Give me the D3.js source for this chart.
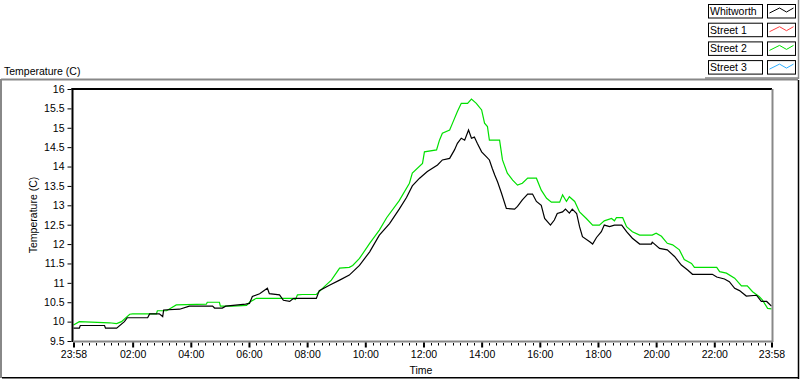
<!DOCTYPE html>
<html>
<head>
<meta charset="utf-8">
<script src="https://cdn.jsdelivr.net/npm/d3@7"></script>
<style>
  html, body { margin: 0; padding: 0; background: #fff; }
  svg { display: block; font-family: "Liberation Sans", Arial, sans-serif; }
</style>
</head>
<body>
<svg id="chart" width="800" height="380"></svg>
<script>
// ---------- DATA (minutes after midnight; start 23:58 previous day = -2) ----------
const seriesNames = ["Whitworth", "Street 1", "Street 2", "Street 3"];
const seriesColors = ["#000000", "#ff4040", "#00e000", "#30b0ff"];

const whitworthTime = [-2,10,12,62,64,87,103,109,151,155,175,182,184,217,237,285,289,305,312,353,361,367,382,398,402,423,431,444,452,499,505,526,547,567,588,609,629,650,670,685,697,712,728,749,759,774,784,790,798,805,813,819,825,831,840,850,856,862,867,873,881,891,908,914,924,935,945,953,963,970,982,990,996,1007,1013,1021,1027,1036,1042,1048,1063,1069,1077,1087,1093,1104,1114,1129,1139,1151,1166,1190,1192,1207,1223,1238,1252,1265,1275,1316,1325,1341,1351,1362,1372,1386,1407,1417,1428,1438];
const whitworthTemp = [9.83,9.83,9.9,9.9,9.83,9.83,10.0,10.1,10.1,10.2,10.2,10.13,10.3,10.32,10.4,10.4,10.35,10.35,10.4,10.45,10.47,10.65,10.72,10.86,10.72,10.69,10.55,10.52,10.6,10.6,10.8,10.94,11.07,11.2,11.45,11.8,12.23,12.53,12.9,13.2,13.5,13.7,13.87,14.04,14.17,14.21,14.43,14.6,14.73,14.68,14.94,14.73,14.76,14.6,14.38,14.25,14.17,13.95,13.78,13.6,13.31,12.92,12.9,12.97,13.14,13.29,13.29,13.1,13.0,12.66,12.49,12.62,12.79,12.83,12.9,12.8,12.9,12.79,12.45,12.19,12.06,12.0,12.17,12.32,12.49,12.45,12.49,12.49,12.32,12.15,12.0,12.0,12.05,11.89,11.85,11.68,11.46,11.33,11.22,11.22,11.15,11.1,11.03,10.86,10.8,10.66,10.68,10.52,10.52,10.4];

const street1Time = [];
const street1Temp = [];

const street2Time = [-2,10,72,87,97,114,120,169,171,190,210,272,274,299,301,326,355,361,375,450,456,460,470,499,516,530,547,567,574,588,609,629,644,670,691,697,718,722,747,753,759,774,780,790,798,811,819,829,840,846,852,856,877,883,893,904,914,924,935,953,963,974,984,1001,1007,1015,1021,1032,1042,1056,1069,1083,1093,1108,1114,1118,1131,1139,1151,1166,1192,1200,1211,1223,1234,1248,1258,1273,1279,1325,1331,1345,1362,1376,1388,1399,1413,1419,1430,1438];
const street2Temp = [9.91,10.0,9.97,9.95,10.0,10.19,10.2,10.2,10.28,10.28,10.43,10.45,10.5,10.5,10.4,10.4,10.42,10.5,10.6,10.6,10.57,10.69,10.7,10.7,10.91,11.07,11.38,11.4,11.45,11.63,12.02,12.36,12.68,13.12,13.57,13.83,14.08,14.38,14.43,14.68,14.86,14.94,15.12,15.42,15.63,15.63,15.74,15.63,15.46,15.12,15.03,14.68,14.68,14.17,13.83,13.65,13.52,13.57,13.7,13.7,13.39,13.18,13.08,13.08,13.27,13.1,13.22,13.1,12.83,12.66,12.49,12.49,12.6,12.66,12.6,12.68,12.68,12.45,12.32,12.23,12.23,12.28,12.2,12.02,11.98,11.85,11.6,11.5,11.4,11.4,11.29,11.25,11.12,10.92,10.92,10.77,10.64,10.56,10.34,10.33];

const street3Time = [];
const street3Temp = [];

const yTicks = [9.5,10,10.5,11,11.5,12,12.5,13,13.5,14,14.5,15,15.5,16];
const xTickMinutes = [-2,120,240,360,480,600,720,840,960,1080,1200,1320,1438];
const xTickLabels = ["23:58","02:00","04:00","06:00","08:00","10:00","12:00","14:00","16:00","18:00","20:00","22:00","23:58"];
const yTitle = "Temperature (C)";
const xTitle = "Time";
const topTitle = "Temperature (C)";

// ---------- DRAWING ----------
const svg = d3.select("#chart");
const FONT = "10.5px";

const x = d3.scaleLinear().domain([-2, 1438]).range([73.5, 771.5]);
const y = d3.scaleLinear().domain([9.5, 16]).range([341, 89]);

// outer frame
svg.append("line").attr("x1", 1).attr("x2", 798).attr("y1", 79.5).attr("y2", 79.5).attr("stroke", "#888").attr("stroke-width", 2);
svg.append("line").attr("x1", 1).attr("x2", 1).attr("y1", 79).attr("y2", 378).attr("stroke", "#888").attr("stroke-width", 2);
svg.append("line").attr("x1", 798.5).attr("x2", 798.5).attr("y1", 80).attr("y2", 379).attr("stroke", "#000").attr("stroke-width", 1.5);
svg.append("line").attr("x1", 2).attr("x2", 799).attr("y1", 377.8).attr("y2", 377.8).attr("stroke", "#000").attr("stroke-width", 1.5);

// top title
svg.append("text").attr("x", 4).attr("y", 75).attr("font-size", FONT).attr("fill", "#000").text(topTitle);

// data lines (clip to plot)
svg.append("clipPath").attr("id", "plotclip").append("rect")
  .attr("x", 73).attr("y", 89).attr("width", 699).attr("height", 252);

const line = d3.line().x(d => x(d[0])).y(d => y(d[1]));
const allSeries = [
  [whitworthTime, whitworthTemp],
  [street1Time, street1Temp],
  [street2Time, street2Temp],
  [street3Time, street3Temp]
];
// draw green (Street 2) first then black on top, as in reference
const order = [1, 3, 2, 0];
const g = svg.append("g").attr("clip-path", "url(#plotclip)");
order.forEach(i => {
  const [t, v] = allSeries[i];
  if (!t.length) return;
  g.append("path")
    .datum(t.map((tt, k) => [tt, v[k]]))
    .attr("fill", "none")
    .attr("stroke", seriesColors[i])
    .attr("stroke-width", 1.2)
    .attr("stroke-linejoin", "miter")
    .attr("d", line);
});

// plot frame
svg.append("line").attr("x1", 71.5).attr("x2", 772).attr("y1", 89).attr("y2", 89).attr("stroke", "#000").attr("stroke-width", 2);
svg.append("line").attr("x1", 72.5).attr("x2", 72.5).attr("y1", 88).attr("y2", 342).attr("stroke", "#000").attr("stroke-width", 2);
svg.append("line").attr("x1", 73).attr("x2", 773).attr("y1", 341.5).attr("y2", 341.5).attr("stroke", "#888").attr("stroke-width", 2);
svg.append("line").attr("x1", 772.5).attr("x2", 772.5).attr("y1", 89).attr("y2", 342).attr("stroke", "#888").attr("stroke-width", 2);

// y axis
const yAxis = d3.axisLeft(y).tickValues(yTicks).tickSize(4).tickPadding(3).tickFormat(d3.format("~g"));
const yg = svg.append("g").attr("transform", "translate(71.5,0)").call(yAxis);
yg.select(".domain").remove();
yg.selectAll("line").attr("stroke", "#000");
yg.selectAll("text").attr("font-size", FONT).attr("font-family", "Liberation Sans, Arial, sans-serif").attr("fill", "#000");

// x axis minor ticks
const minor = d3.range(15, 1438, 15).filter(m => m % 120 !== 0);
svg.append("g").selectAll("line").data(minor).join("line")
  .attr("x1", d => Math.round(x(d)) + 0.5).attr("x2", d => Math.round(x(d)) + 0.5)
  .attr("y1", 343).attr("y2", 345.5).attr("stroke", "#000").attr("stroke-width", 1);

// x axis major ticks + labels
const xAxis = d3.axisBottom(x).tickValues(xTickMinutes).tickSize(5).tickPadding(3)
  .tickFormat((d, i) => xTickLabels[i]);
const xg = svg.append("g").attr("transform", "translate(0,342.5)").call(xAxis);
xg.select(".domain").remove();
xg.selectAll("line").attr("stroke", "#000").attr("stroke-width", 2);
xg.selectAll("text").attr("font-size", FONT).attr("font-family", "Liberation Sans, Arial, sans-serif").attr("fill", "#000");

// axis titles
svg.append("text").attr("x", 421).attr("y", 374).attr("text-anchor", "middle").attr("font-size", FONT).text(xTitle);
svg.append("text").attr("transform", "translate(37,215) rotate(-90)").attr("text-anchor", "middle").attr("font-size", FONT).text(yTitle);

// legend
const legTop = 4, legStep = 18.7;
svg.append("line").attr("x1", 705).attr("x2", 799).attr("y1", 78).attr("y2", 78).attr("stroke", "#888").attr("stroke-width", 1.5);
svg.append("line").attr("x1", 798.5).attr("x2", 798.5).attr("y1", 0).attr("y2", 79).attr("stroke", "#888").attr("stroke-width", 1.5);
const zig = [[2, 9], [12, 4], [19, 8], [26, 4]];
seriesNames.forEach((name, i) => {
  const ty = legTop + i * legStep;
  svg.append("rect").attr("x", 708.5).attr("y", ty + 0.5).attr("width", 54).attr("height", 13.5)
    .attr("fill", "#fff").attr("stroke", "#000").attr("stroke-width", 1);
  svg.append("text").attr("x", 710).attr("y", ty + 11).attr("font-size", FONT).attr("fill", "#000").text(name);
  svg.append("rect").attr("x", 767.5).attr("y", ty + 0.5).attr("width", 28).attr("height", 13.5)
    .attr("fill", "#fff").attr("stroke", "#000").attr("stroke-width", 1);
  svg.append("path")
    .attr("d", d3.line()(zig.map(p => [767.5 + p[0], ty + p[1]])))
    .attr("fill", "none").attr("stroke", seriesColors[i]).attr("stroke-width", 1);
});
</script>
</body>
</html>
